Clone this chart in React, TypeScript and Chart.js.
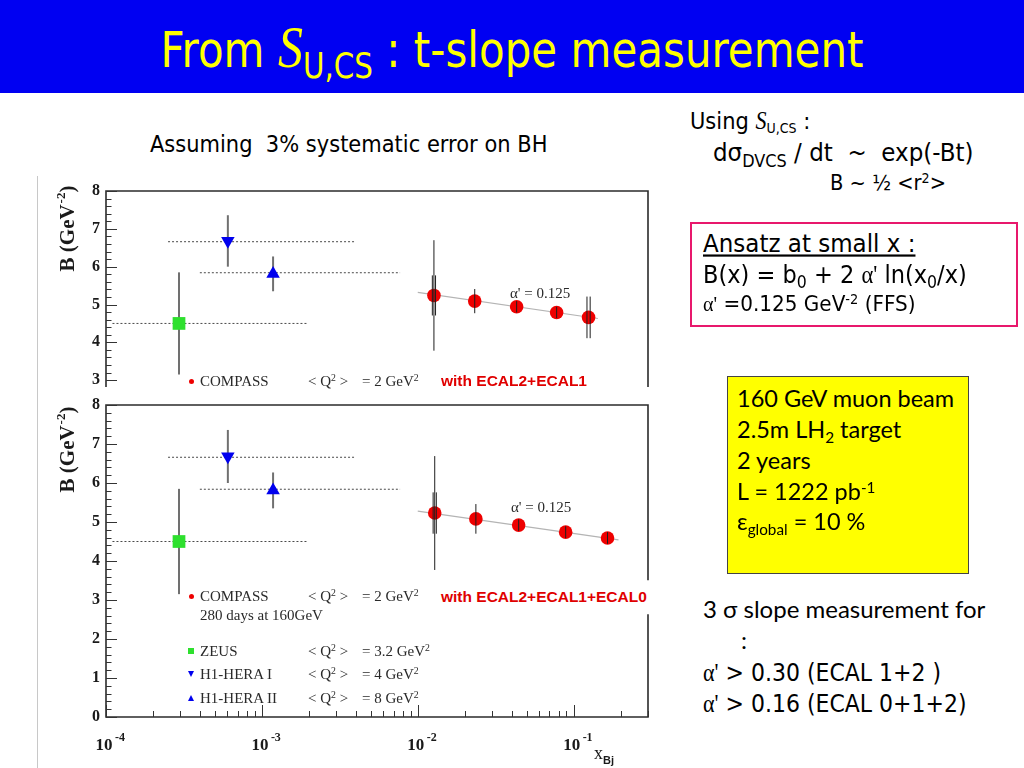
import React, { useEffect, useRef } from "react";
import { Chart, registerables } from "chart.js";

Chart.register(...registerables);

// ---------------- axis data ----------------
const X_MIN = 1e-4;
const X_MAX = 0.3;
const xDecadeTicks = [1e-4, 1e-3, 1e-2, 1e-1];
const xDecadeExponents = ["-4", "-3", "-2", "-1"];
const xMinorMultipliers = [2, 3, 4, 5, 6, 7, 8, 9];

const yTicksTop = [3, 4, 5, 6, 7, 8];
const yTicksBottom = [0, 1, 2, 3, 4, 5, 6, 7, 8];
const yMinTop = 2.82;
const yMinBottom = 0;
const yMax = 8;

// ---------------- measurements (both panels) ----------------
const zeusX = [2.94e-4];
const zeusB = [4.5];
const zeusErr = [1.35];
const zeusXRange = [1.1e-4, 1.95e-3];
const zeusLevel = 4.5;

const h1aX = [6.05e-4];
const h1aB = [6.68];
const h1aErr = [0.68];
const h1aXRange = [2.5e-4, 3.95e-3];
const h1aLevel = 6.66;

const h1bX = [1.18e-3];
const h1bB = [5.81];
const h1bErr = [0.46];
const h1bXRange = [4.0e-4, 7.7e-3];
const h1bLevel = 5.84;

// ---------------- COMPASS projection, ECAL2+ECAL1 ----------------
const compTopX = [0.0127, 0.0232, 0.0431, 0.0778, 0.1247];
const compTopB = [5.24, 5.09, 4.94, 4.79, 4.66];
const compTopErrThin = [1.46, 0.32, 0.15, 0.15, 0];
const compTopErrDouble = [0.53, 0, 0, 0, 0.55];
const fitTopX = [0.01, 0.143];
const fitTopB = [5.32, 4.63];

// ---------------- COMPASS projection, ECAL2+ECAL1+ECAL0 ----------------
const compBotX = [0.01285, 0.0236, 0.0444, 0.0889, 0.165];
const compBotB = [5.23, 5.08, 4.92, 4.74, 4.59];
const compBotErrThin = [1.46, 0.38, 0.15, 0.15, 0.15];
const compBotErrDouble = [0.53, 0, 0, 0, 0];
const fitBotX = [0.01, 0.194];
const fitBotB = [5.28, 4.54];

const RED = "#ee0000";
const GREEN = "#2ee02e";
const BLUE = "#0000ee";
const SERIF = '"Liberation Serif", "Times New Roman", serif';
const SANS = '"Liberation Sans", Arial, sans-serif';
const COMIC = '"DejaVu Sans", sans-serif';
const CALIBRI = 'Lato, "Open Sans", sans-serif';

const pts = (xs: number[], ys: number[]) => xs.map((x, i) => ({ x, y: ys[i] }));
const hline = (r: number[], level: number) => r.map((x) => ({ x, y: level }));

function buildDatasets(cx: number[], cb: number[], eThin: number[], eDouble: number[], fx: number[], fb: number[]) {
  const dashed = (data: any) => ({
    type: "line",
    data,
    borderColor: "#4a4a4a",
    borderWidth: 1,
    borderDash: [2, 2],
    pointRadius: 0,
    showLine: true,
    order: 5,
  });
  return [
    dashed(hline(zeusXRange, zeusLevel)),
    dashed(hline(h1aXRange, h1aLevel)),
    dashed(hline(h1bXRange, h1bLevel)),
    {
      type: "line",
      data: pts(fx, fb),
      borderColor: "#b4b4b4",
      borderWidth: 1.2,
      pointRadius: 0,
      showLine: true,
      order: 4,
    },
    {
      type: "scatter",
      data: pts(zeusX, zeusB),
      pointStyle: "rect",
      pointRadius: 9,
      backgroundColor: GREEN,
      borderWidth: 0,
      errGray: zeusErr,
      order: 1,
    },
    {
      type: "scatter",
      data: pts(h1aX, h1aB),
      pointStyle: "triangle",
      rotation: 180,
      pointRadius: 7.8,
      backgroundColor: BLUE,
      borderWidth: 0,
      errGray: h1aErr,
      order: 1,
    },
    {
      type: "scatter",
      data: pts(h1bX, h1bB),
      pointStyle: "triangle",
      pointRadius: 7.8,
      backgroundColor: BLUE,
      borderWidth: 0,
      errGray: h1bErr,
      order: 1,
    },
    {
      type: "scatter",
      data: pts(cx, cb),
      pointStyle: "circle",
      pointRadius: 6.8,
      backgroundColor: RED,
      borderWidth: 0,
      errThin: eThin,
      errDouble: eDouble,
      order: 1,
    },
  ];
}

function drawErrors(chart: any, kind: "gray" | "black") {
  const ctx = chart.ctx;
  const ys = chart.scales.y;
  const a = chart.chartArea;
  ctx.save();
  ctx.beginPath();
  ctx.rect(a.left, a.top, a.right - a.left, a.bottom - a.top);
  ctx.clip();
  chart.data.datasets.forEach((ds: any, i: number) => {
    const meta = chart.getDatasetMeta(i);
    ds.data.forEach((p: any, j: number) => {
      const el = meta.data[j];
      if (!el) return;
      const px = el.x;
      const seg = (x: number, e: number) => {
        if (!e) return;
        ctx.beginPath();
        ctx.moveTo(x, ys.getPixelForValue(p.y - e));
        ctx.lineTo(x, ys.getPixelForValue(p.y + e));
        ctx.stroke();
      };
      if (kind === "gray" && ds.errGray) {
        ctx.strokeStyle = "#707070";
        ctx.lineWidth = 2;
        seg(px, ds.errGray[j]);
      }
      if (kind === "black" && ds.errThin) {
        ctx.strokeStyle = "#1e1e1e";
        ctx.lineWidth = 1;
        seg(px, ds.errThin[j]);
        seg(px - 1.6, ds.errDouble[j]);
        seg(px + 1.6, ds.errDouble[j]);
      }
    });
  });
  ctx.restore();
}

type PanelCfg = { yTicks: number[]; bottomAxis: boolean; titleCenterY: number };

function makeFramePlugin(cfg: PanelCfg) {
  return {
    id: "rootFrame",
    beforeDatasetsDraw(chart: any) {
      drawErrors(chart, "gray");
    },
    afterDatasetsDraw(chart: any) {
      drawErrors(chart, "black");
    },
    afterDraw(chart: any) {
      const ctx = chart.ctx;
      const a = chart.chartArea;
      const xs = chart.scales.x;
      const ys = chart.scales.y;
      ctx.save();
      // frame
      ctx.strokeStyle = "#2b2b2b";
      ctx.lineWidth = 1.6;
      ctx.beginPath();
      if (cfg.bottomAxis) {
        ctx.rect(a.left, a.top, a.right - a.left, a.bottom - a.top);
      } else {
        ctx.moveTo(a.left, a.bottom);
        ctx.lineTo(a.left, a.top);
        ctx.lineTo(a.right, a.top);
        ctx.lineTo(a.right, a.bottom);
      }
      ctx.stroke();

      // y ticks (inward)
      ctx.lineWidth = 1;
      ctx.strokeStyle = "#333";
      ctx.beginPath();
      for (let k = 0; k <= 40; k++) {
        const v = k / 5;
        if (v < ys.min - 1e-9 || v > ys.max + 1e-9) continue;
        const py = Math.round(ys.getPixelForValue(v)) + 0.5;
        const len = k % 5 === 0 ? 11 : 5.5;
        ctx.moveTo(a.left, py);
        ctx.lineTo(a.left + len, py);
      }
      ctx.stroke();

      // y labels
      ctx.fillStyle = "#1a1a1a";
      ctx.font = `bold 16px ${SERIF}`;
      ctx.textAlign = "right";
      ctx.textBaseline = "middle";
      cfg.yTicks.forEach((v) => ctx.fillText(String(v), a.left - 6, ys.getPixelForValue(v)));

      // y title
      ctx.save();
      ctx.translate(a.left - 37, cfg.titleCenterY);
      ctx.rotate(-Math.PI / 2);
      const f1 = `bold 21px ${SERIF}`;
      const f2 = `bold 13px ${SERIF}`;
      ctx.font = f1;
      const w1 = ctx.measureText("B (GeV").width;
      const w3 = ctx.measureText(")").width;
      ctx.font = f2;
      const w2 = ctx.measureText("-2").width;
      const x0 = -(w1 + w2 + w3) / 2;
      ctx.textAlign = "left";
      ctx.textBaseline = "middle";
      ctx.font = f1;
      ctx.fillText("B (GeV", x0, 0);
      ctx.font = f2;
      ctx.fillText("-2", x0 + w1 + 1, -7);
      ctx.font = f1;
      ctx.fillText(")", x0 + w1 + w2 + 1, 0);
      ctx.restore();

      if (cfg.bottomAxis) {
        // x ticks (inward from bottom)
        ctx.beginPath();
        xDecadeTicks.forEach((d) => {
          const major = xs.getPixelForValue(d);
          if (d >= X_MIN && d <= X_MAX) {
            const px = Math.round(major) + 0.5;
            ctx.moveTo(px, a.bottom);
            ctx.lineTo(px, a.bottom - 12);
          }
          xMinorMultipliers.forEach((m) => {
            const v = m * d;
            if (v <= X_MIN || v > X_MAX * 1.0001) return;
            const px = Math.round(xs.getPixelForValue(v)) + 0.5;
            ctx.moveTo(px, a.bottom);
            ctx.lineTo(px, a.bottom - 6);
          });
        });
        ctx.stroke();

        // x labels 10^n
        ctx.fillStyle = "#1a1a1a";
        xDecadeTicks.forEach((d, i) => {
          const px = xs.getPixelForValue(d);
          ctx.font = `bold 17px ${SERIF}`;
          ctx.textAlign = "center";
          ctx.textBaseline = "middle";
          ctx.fillText("10", px - 2, a.bottom + 29);
          ctx.font = `bold 12px ${SERIF}`;
          ctx.textAlign = "left";
          ctx.fillText(xDecadeExponents[i], px + 9, a.bottom + 21);
        });
        // x title
        ctx.font = `18px ${SERIF}`;
        ctx.textAlign = "left";
        ctx.fillText("x", a.right - 54, a.bottom + 37);
        ctx.font = `bold 11px ${SANS}`;
        ctx.fillText("Bj", a.right - 45, a.bottom + 44);
      }
      ctx.restore();
    },
  };
}

type PanelProps = {
  left: number;
  top: number;
  width: number;
  height: number;
  padding: { left: number; right: number; top: number; bottom: number };
  yMin: number;
  cfg: PanelCfg;
  datasets: any[];
};

function Panel({ left, top, width, height, padding, yMin, cfg, datasets }: PanelProps) {
  const ref = useRef<HTMLCanvasElement>(null);
  useEffect(() => {
    const chart = new Chart(ref.current as HTMLCanvasElement, {
      type: "scatter",
      data: { datasets: datasets as any },
      options: {
        responsive: false,
        animation: false,
        devicePixelRatio: 1,
        events: [],
        layout: { padding },
        plugins: { legend: { display: false }, tooltip: { enabled: false }, title: { display: false } },
        scales: {
          x: { type: "logarithmic", min: X_MIN, max: X_MAX, display: false },
          y: { type: "linear", min: yMin, max: yMax, display: false },
        },
      } as any,
      plugins: [makeFramePlugin(cfg) as any],
    });
    return () => chart.destroy();
  }, []);
  return (
    <canvas
      ref={ref}
      width={width}
      height={height}
      style={{ position: "absolute", left, top, width, height }}
    />
  );
}

const T = ({ x, y, style, children, sy }: { x: number; y: number; style?: React.CSSProperties; children?: any; sy?: number }) => (
  <div
    style={{
      position: "absolute",
      left: x,
      top: y,
      transform: `translateY(-50%) scaleY(${sy ?? 1})`,
      transformOrigin: "left center",
      whiteSpace: "nowrap",
      lineHeight: 1,
      ...style,
    }}
  >
    {children}
  </div>
);

const sup = (s: string, size = "0.65em", raise = "-0.5em") => (
  <span style={{ fontSize: size, position: "relative", top: raise }}>{s}</span>
);
const sub = (s: string, size = "0.65em", drop = "0.35em") => (
  <span style={{ fontSize: size, position: "relative", top: drop }}>{s}</span>
);

const plotText: React.CSSProperties = { fontFamily: SERIF, fontSize: 15, color: "#2a2a2a" };
const redLabel: React.CSSProperties = { fontFamily: SANS, fontWeight: "bold", fontSize: 15.5, color: "#e00000", background: "#fff" };

const Dot = ({ x, y }: { x: number; y: number }) => (
  <div style={{ position: "absolute", left: x - 2.5, top: y - 2.5, width: 5, height: 5, borderRadius: 3, background: RED }} />
);
const Sq = ({ x, y }: { x: number; y: number }) => (
  <div style={{ position: "absolute", left: x - 3, top: y - 3, width: 6, height: 6, background: GREEN }} />
);
const Tri = ({ x, y, down }: { x: number; y: number; down?: boolean }) => (
  <div
    style={{
      position: "absolute",
      left: x - 3.5,
      top: y - 3,
      width: 0,
      height: 0,
      borderLeft: "3.5px solid transparent",
      borderRight: "3.5px solid transparent",
      ...(down ? { borderTop: `6px solid ${BLUE}` } : { borderBottom: `6px solid ${BLUE}` }),
    }}
  />
);

const LegendRow = ({ y, label, q }: { y: number; label: string; q: string }) => (
  <>
    <T x={200} y={y} style={plotText}>{label}</T>
    <T x={308} y={y} style={plotText}>&lt; Q{sup("2")} &gt;</T>
    <T x={362} y={y} style={plotText}>= {q} GeV{sup("2")}</T>
  </>
);

export default function App() {
  const topSets = buildDatasets(compTopX, compTopB, compTopErrThin, compTopErrDouble, fitTopX, fitTopB);
  const botSets = buildDatasets(compBotX, compBotB, compBotErrThin, compBotErrDouble, fitBotX, fitBotB);
  return (
    <div style={{ position: "absolute", left: 0, top: 0, width: 1024, height: 768, background: "#fff", overflow: "hidden" }}>
      {/* header */}
      <div style={{ position: "absolute", left: 0, top: 0, width: 1024, height: 93, background: "#0000f2" }} />
      <div
        style={{
          position: "absolute",
          left: 0,
          top: 47,
          width: 1024,
          textAlign: "center",
          transform: "translateY(-50%) scaleY(1.2)",
          color: "#ffff00",
          fontFamily: COMIC,
          fontSize: 42,
          lineHeight: 1,
          whiteSpace: "nowrap",
        }}
      >
        From <span style={{ fontFamily: SERIF, fontStyle: "italic", fontSize: 50 }}>S</span>
        {sub("U,CS", "0.7em", "0.3em")}
        {" : t-slope measurement"}
      </div>

      {/* left subtitle */}
      <T x={150} y={145} sy={1.12} style={{ fontFamily: COMIC, fontSize: 21, color: "#000" }}>
        Assuming&nbsp; 3% systematic error on BH
      </T>

      {/* image border */}
      <div style={{ position: "absolute", left: 37, top: 176, width: 1, height: 592, background: "#c8c8c8" }} />

      {/* plots */}
      <Panel
        left={40}
        top={170}
        width={620}
        height={226}
        padding={{ left: 66, right: 12, top: 21, bottom: 2 }}
        yMin={yMinTop}
        cfg={{ yTicks: yTicksTop, bottomAxis: false, titleCenterY: 59 }}
        datasets={topSets}
      />
      <Panel
        left={40}
        top={396}
        width={620}
        height={372}
        padding={{ left: 66, right: 12, top: 9, bottom: 51 }}
        yMin={yMinBottom}
        cfg={{ yTicks: yTicksBottom, bottomAxis: true, titleCenterY: 54 }}
        datasets={botSets}
      />

      {/* top plot annotations */}
      <Dot x={191} y={381} />
      <LegendRow y={381} label="COMPASS" q="2" />
      <T x={441} y={381} style={redLabel}>with ECAL2+ECAL1</T>
      <T x={510} y={293} style={{ ...plotText, fontSize: 15 }}>α' = 0.125</T>

      {/* bottom plot annotations */}
      <Dot x={191} y={596} />
      <LegendRow y={596} label="COMPASS" q="2" />
      <T x={200} y={615} style={plotText}>280 days at 160GeV</T>
      <T x={437} y={597} style={{ ...redLabel, padding: "9px 6px 9px 4px" }}>with ECAL2+ECAL1+ECAL0</T>
      <Sq x={191} y={651} />
      <LegendRow y={651} label="ZEUS" q="3.2" />
      <Tri x={191} y={674} down />
      <LegendRow y={674} label="H1-HERA I" q="4" />
      <Tri x={191} y={698} />
      <LegendRow y={698} label="H1-HERA II" q="8" />
      <T x={511} y={507} style={{ ...plotText, fontSize: 15 }}>α' = 0.125</T>

      {/* right column */}
      <T x={690} y={121} sy={1.1} style={{ fontFamily: COMIC, fontSize: 21 }}>
        Using <span style={{ fontFamily: SERIF, fontStyle: "italic", fontSize: 22 }}>S</span>
        {sub("U,CS", "0.6em", "0.3em")} :
      </T>
      <T x={713} y={153} sy={1.1} style={{ fontFamily: COMIC, fontSize: 23 }}>
        dσ{sub("DVCS", "0.7em", "0.3em")} / dt&nbsp; ~&nbsp; exp(-Bt)
      </T>
      <T x={830} y={183} sy={1.1} style={{ fontFamily: COMIC, fontSize: 19.5 }}>
        B ~ {"\u00BD"} &lt;r{sup("2", "0.65em", "-0.45em")}&gt;
      </T>

      <div
        style={{
          position: "absolute",
          left: 690,
          top: 222,
          width: 328,
          height: 105,
          boxSizing: "border-box",
          border: "2.5px solid #e8186c",
        }}
      />
      <T x={703} y={244} sy={1.1} style={{ fontFamily: COMIC, fontSize: 23, textDecoration: "underline" }}>
        Ansatz at small x :
      </T>
      <T x={703} y={275} sy={1.1} style={{ fontFamily: COMIC, fontSize: 22.5 }}>
        B(x) = b{sub("0", "0.7em", "0.3em")} + 2 <span style={{ fontFamily: SERIF }}>α'</span> ln(x{sub("0", "0.7em", "0.3em")}/x)
      </T>
      <T x={703} y={303} sy={1.1} style={{ fontFamily: COMIC, fontSize: 20 }}>
        <span style={{ fontFamily: SERIF }}>α'</span> =0.125 GeV{sup("-2", "0.65em", "-0.45em")} (FFS)
      </T>

      <div
        style={{
          position: "absolute",
          left: 727,
          top: 376,
          width: 242,
          height: 198,
          boxSizing: "border-box",
          border: "1px solid #444",
          background: "#ffff00",
        }}
      />
      <T x={737} y={399} style={{ fontFamily: CALIBRI, fontSize: 23.5 }}>160 GeV muon beam</T>
      <T x={737} y={430} style={{ fontFamily: CALIBRI, fontSize: 23.5 }}>
        2.5m LH{sub("2", "0.65em", "0.3em")} target
      </T>
      <T x={737} y={461} style={{ fontFamily: CALIBRI, fontSize: 23.5 }}>2 years</T>
      <T x={737} y={492} style={{ fontFamily: CALIBRI, fontSize: 23.5 }}>
        L = 1222 pb{sup("-1", "0.65em", "-0.45em")}
      </T>
      <T x={737} y={522} style={{ fontFamily: CALIBRI, fontSize: 23.5 }}>
        ε{sub("global", "0.65em", "0.3em")} = 10 %
      </T>

      <T x={703} y={609} style={{ fontFamily: CALIBRI, fontSize: 24 }}>3 σ slope measurement for</T>
      <T x={741} y={640} style={{ fontFamily: CALIBRI, fontSize: 24 }}>:</T>
      <T x={703} y={673} sy={1.1} style={{ fontFamily: COMIC, fontSize: 22 }}>
        <span style={{ fontFamily: SERIF }}>α'</span> &gt; 0.30 (ECAL 1+2 )
      </T>
      <T x={703} y={704} sy={1.1} style={{ fontFamily: COMIC, fontSize: 22 }}>
        <span style={{ fontFamily: SERIF }}>α'</span> &gt; 0.16 (ECAL 0+1+2)
      </T>
    </div>
  );
}
